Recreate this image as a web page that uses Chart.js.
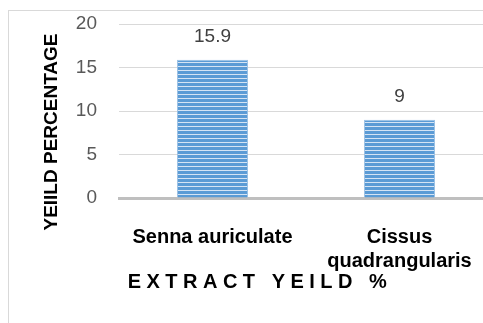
<!DOCTYPE html>
<html>
<head>
<meta charset="utf-8">
<script src="https://cdn.jsdelivr.net/npm/chart.js@4/dist/chart.umd.min.js"></script>
<style>
    html, body { margin: 0; padding: 0; background: #fff; overflow: hidden; width: 483px; height: 323px; }
    #frame { position: absolute; left: 8px; top: 10px; width: 498px; height: 330px; border: 1px solid #d9d9d9; }
    canvas { display: block; }
</style>
</head>
<body>
<div id="frame"><canvas id="yieldChart" width="498" height="330"></canvas></div>
<script>
// Chart data
const categories = ['Senna auriculate', ['Cissus', 'quadrangularis']];
const yieldValues = [15.9, 9];
const yTicks = [0, 5, 10, 15, 20];
const xTitle = 'EXTRACT YEILD %';
const yTitle = 'YEIILD PERCENTAGE';

const FONT = '"Liberation Sans", Arial, sans-serif';

// Horizontal stripe fill like the Excel pattern
function stripePattern(ctx) {
    const c = document.createElement('canvas');
    c.width = 4;
    c.height = 4;
    const g = c.getContext('2d');
    g.fillStyle = '#5b9bd5';
    g.fillRect(0, 0, 4, 3);
    g.fillStyle = '#d5e4f4';
    g.fillRect(0, 3, 4, 1);
    return ctx.createPattern(c, 'repeat');
}

// Value labels above the bars
const valueLabels = {
    id: 'valueLabels',
    afterDatasetsDraw(chart) {
        const ctx = chart.ctx;
        const meta = chart.getDatasetMeta(0);
        ctx.save();
        ctx.fillStyle = '#404040';
        ctx.font = '19px ' + FONT;
        ctx.textAlign = 'center';
        ctx.textBaseline = 'alphabetic';
        meta.data.forEach(function(bar, i) {
            ctx.fillText(String(yieldValues[i]), bar.x, bar.y - 18);
        });
        ctx.restore();
    }
};

// Axis titles (y title sits lower than plot centre, x title has letter spacing)
const axisTitles = {
    id: 'axisTitles',
    afterDraw(chart) {
        const ctx = chart.ctx;
        const area = chart.chartArea;
        ctx.save();
        ctx.fillStyle = '#000';
        ctx.font = 'bold 19px ' + FONT;
        ctx.textAlign = 'center';
        ctx.textBaseline = 'middle';
        ctx.translate(area.left - 67, (area.top + area.bottom) / 2 + 21);
        ctx.rotate(-Math.PI / 2);
        ctx.fillText(yTitle, 0, 0);
        ctx.restore();

        ctx.save();
        ctx.fillStyle = '#000';
        ctx.font = 'bold 20px ' + FONT;
        ctx.letterSpacing = '5.5px';
        ctx.textAlign = 'center';
        ctx.textBaseline = 'alphabetic';
        ctx.fillText(xTitle, chart.width / 2 + 2, 277);
        ctx.restore();
    }
};

function initializeYieldChart() {
    const canvas = document.getElementById('yieldChart');
    const ctx = canvas.getContext('2d');

    new Chart(canvas, {
        type: 'bar',
        data: {
            labels: categories,
            datasets: [{
                data: yieldValues,
                backgroundColor: stripePattern(ctx),
                borderColor: '#9dc3e6',
                borderWidth: 1,
                barPercentage: 0.38,
                categoryPercentage: 1.0
            }]
        },
        options: {
            responsive: false,
            animation: false,
            layout: {
                padding: { top: 13, right: 14, left: 0, bottom: 0 }
            },
            scales: {
                x: {
                    grid: { display: false },
                    border: { display: true, color: '#bfbfbf', width: 3 },
                    ticks: {
                        color: '#000',
                        font: { family: FONT, size: 20, weight: 'bold' },
                        padding: 19,
                        maxRotation: 0,
                        autoSkip: false
                    },
                    afterFit: function(scale) { scale.height = 143; }
                },
                y: {
                    min: 0,
                    max: 20,
                    afterBuildTicks: function(scale) {
                        scale.ticks = yTicks.map(function(v) { return { value: v }; });
                    },
                    // tick marks are invisible, they only push the labels away from the plot
                    grid: { color: '#d9d9d9', lineWidth: 1, drawTicks: true, tickLength: 22, tickColor: 'rgba(0,0,0,0)' },
                    border: { display: false },
                    ticks: {
                        color: '#595959',
                        font: { family: FONT, size: 19 },
                        padding: 0
                    },
                    afterFit: function(scale) { scale.width = 110; }
                }
            },
            plugins: {
                legend: { display: false },
                tooltip: { enabled: false }
            }
        },
        plugins: [valueLabels, axisTitles]
    });
}

document.addEventListener('DOMContentLoaded', initializeYieldChart);
</script>
</body>
</html>
